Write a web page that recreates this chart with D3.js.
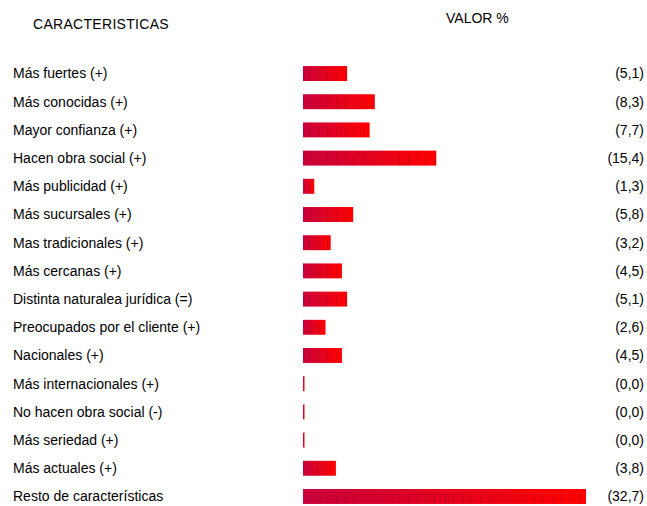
<!DOCTYPE html>
<html><head><meta charset="utf-8">
<script src="https://cdn.jsdelivr.net/npm/d3@7"></script>
<style>body{margin:0;background:#fff}svg{display:block}text{font-family:"Liberation Sans",Arial,sans-serif;fill:#000}</style>
</head><body><svg id="c" width="647" height="506"></svg>
<script>
const categories = ["Más fuertes (+)","Más conocidas (+)","Mayor confianza (+)","Hacen obra social (+)","Más publicidad (+)","Más sucursales (+)","Mas tradicionales (+)","Más cercanas (+)","Distinta naturalea jurídica (=)","Preocupados por el cliente (+)","Nacionales (+)","Más internacionales (+)","No hacen obra social (-)","Más seriedad (+)","Más actuales (+)","Resto de características"];
const values = [5.1,8.3,7.7,15.4,1.3,5.8,3.2,4.5,5.1,2.6,4.5,0.0,0.0,0.0,3.8,32.7];
const valueLabels = ["(5,1)","(8,3)","(7,7)","(15,4)","(1,3)","(5,8)","(3,2)","(4,5)","(5,1)","(2,6)","(4,5)","(0,0)","(0,0)","(0,0)","(3,8)","(32,7)"];
const headers = ["CARACTERISTICAS","VALOR %"];

const svg = d3.select("#c");
const x = d3.scaleLinear().domain([0, 32.7]).range([303, 586]);
const y = d3.scaleBand().domain(categories).range([59, 511]).paddingInner(0.47).paddingOuter(0.25);

const defs = svg.append("defs");
const g = defs.append("linearGradient").attr("id","grad").attr("x1","0").attr("x2","1").attr("y1","0").attr("y2","0");
g.append("stop").attr("offset","0").attr("stop-color","#c9003c");
g.append("stop").attr("offset","1").attr("stop-color","#ff0000");
const p = defs.append("pattern").attr("id","stripes").attr("patternUnits","userSpaceOnUse").attr("width",9).attr("height",40).attr("x",303);
p.append("rect").attr("x",6).attr("y",0).attr("width",1).attr("height",40).attr("fill","#7a0020").attr("opacity",0.35);

svg.append("text").attr("x",33).attr("y",29).attr("font-size",14).attr("letter-spacing","0.3").text(headers[0]);
svg.append("text").attr("x",446).attr("y",23).attr("font-size",14).text(headers[1]);

const rows = svg.selectAll("g.row").data(categories).join("g").attr("class","row");
rows.append("text").attr("x",13).attr("y",d=>y(d)+y.bandwidth()/2).attr("dy","0.35em").attr("font-size",14).text(d=>d);
rows.append("rect").attr("x",x(0)).attr("y",d=>y(d)).attr("height",y.bandwidth())
  .attr("width",(d,i)=>Math.max(1.5, x(values[i])-x(0))).attr("fill","url(#grad)");
rows.append("rect").attr("x",x(0)).attr("y",d=>y(d)+y.bandwidth()*0.3).attr("height",y.bandwidth()*0.6)
  .attr("width",(d,i)=>Math.max(0, x(values[i])-x(0))).attr("fill","url(#stripes)");
rows.append("text").attr("x",644).attr("y",d=>y(d)+y.bandwidth()/2).attr("dy","0.35em").attr("text-anchor","end").attr("font-size",14).text((d,i)=>valueLabels[i]);
</script></body></html>
